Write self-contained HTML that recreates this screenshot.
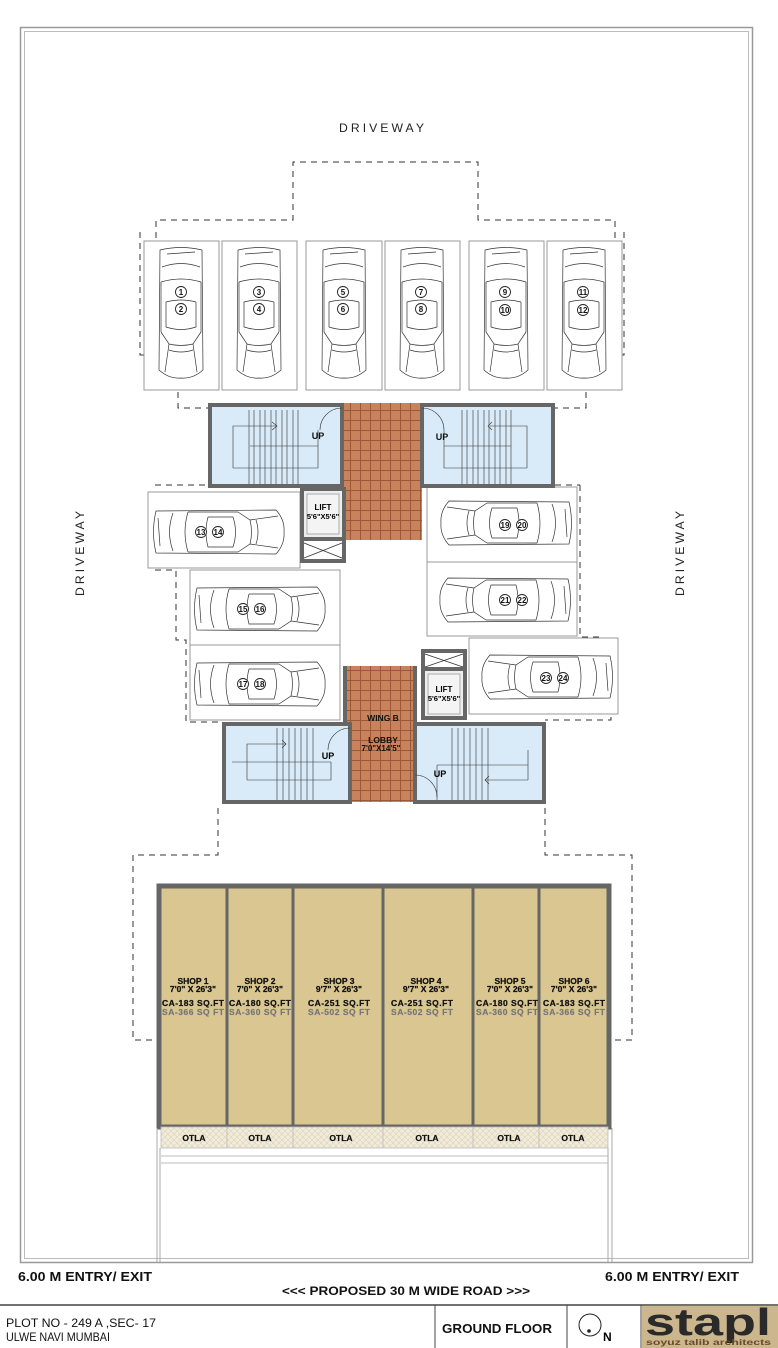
<!DOCTYPE html>
<html><head><meta charset="utf-8"><style>
html,body{margin:0;padding:0;background:#fff}
svg{display:block}
text{font-family:"Liberation Sans",Arial,sans-serif}
.b{font-weight:bold}
</style></head><body>
<svg width="778" height="1348" viewBox="0 0 778 1348" xmlns="http://www.w3.org/2000/svg">
<defs>
<pattern id="brick" width="10" height="10" patternUnits="userSpaceOnUse">
<rect width="10" height="10" fill="#c9835c"/>
<path d="M0,0.5H10M0.5,0V10" stroke="#9a5838" stroke-width="1"/>
</pattern>
<pattern id="otla" width="6" height="6" patternUnits="userSpaceOnUse">
<rect width="6" height="6" fill="#f1ebdb"/>
<path d="M0,6L6,0M0,0L6,6" stroke="#ddd2b6" stroke-width="0.6"/>
</pattern>
<g id="car" fill="none" stroke="#333" stroke-width="0.7">
<path d="M-62,-21 Q-67,0 -62,21 L58,22 Q67,12 66,0 Q67,-12 58,-22 Z" fill="#fff"/>
<path d="M-60,-14 L-58,14 M-45,-19 Q-52,0 -45,19 M-30,-20 Q-36,0 -30,20 M-30,-20 L20,-20 M-30,20 L20,20 M-10,-15 L15,-15 Q20,0 15,15 L-10,15 Q-14,0 -10,-15 M20,-20 L32,-12 Q35,0 32,12 L20,20 M32,-12 L60,-16 M32,12 L60,16 M38,-12 Q42,0 38,12"/>
</g>
<g id="num" ><circle r="5.5" fill="#fff" stroke="#222" stroke-width="0.9"/></g>
</defs>

<rect x="20.5" y="27.5" width="732" height="1235" fill="none" stroke="#999" stroke-width="1.5"/>
<rect x="24.5" y="31.5" width="724" height="1227" fill="none" stroke="#bbb" stroke-width="1"/>

<text x="383" y="132" text-anchor="middle" font-size="12" letter-spacing="3" fill="#222" textLength="88" lengthAdjust="spacingAndGlyphs">DRIVEWAY</text>
<text transform="translate(84,552) rotate(-90)" text-anchor="middle" font-size="12" letter-spacing="3" fill="#222" textLength="88" lengthAdjust="spacingAndGlyphs">DRIVEWAY</text>
<text transform="translate(684,552) rotate(-90)" text-anchor="middle" font-size="12" letter-spacing="3" fill="#222" textLength="88" lengthAdjust="spacingAndGlyphs">DRIVEWAY</text>

<g fill="none" stroke="#333" stroke-width="1" stroke-dasharray="6,5">
<path d="M156,238 V220 H293 V162 H478 V220 H615 V238"/>
<path d="M140,232 V355 H178 V408 H208"/>
<path d="M624,232 V355 H586 V408 H555"/>
<path d="M155,485 H208 M555,485 H580"/>
<path d="M580,485 V637 H600 M155,570 H176 V640 H186 V722 H222"/>
<path d="M611,640 V720 H545"/>
<path d="M218,808 V855 H133 V1040 H157 M545,808 V855 H632 V1040 H612"/>
</g>

<g fill="#fff" stroke="#999" stroke-width="1">
<rect x="144" y="241" width="75" height="149"/>
<rect x="222" y="241" width="75" height="149"/>
<rect x="306" y="241" width="76" height="149"/>
<rect x="385" y="241" width="75" height="149"/>
<rect x="469" y="241" width="75" height="149"/>
<rect x="547" y="241" width="75" height="149"/>
<rect x="148" y="492" width="152" height="76"/>
<rect x="427" y="487" width="150" height="75"/>
<rect x="427" y="562" width="150" height="74"/>
<rect x="190" y="570" width="150" height="75"/>
<rect x="190" y="645" width="150" height="75"/>
<rect x="469" y="638" width="149" height="76"/>
</g>
<use href="#car" transform="translate(181,312) rotate(90)"/>
<use href="#car" transform="translate(259,312) rotate(90)"/>
<use href="#car" transform="translate(344,312) rotate(90)"/>
<use href="#car" transform="translate(422,312) rotate(90)"/>
<use href="#car" transform="translate(506,312) rotate(90)"/>
<use href="#car" transform="translate(584,312) rotate(90)"/>
<use href="#car" transform="translate(218,532)"/>
<use href="#car" transform="translate(507,523) rotate(180)"/>
<use href="#car" transform="translate(506,600) rotate(180)"/>
<use href="#car" transform="translate(259,609)"/>
<use href="#car" transform="translate(259,684)"/>
<use href="#car" transform="translate(548,677) rotate(180)"/>

<g font-size="8" font-weight="bold" text-anchor="middle" fill="#111">
<g transform="translate(181,292)"><use href="#num"/><text y="3">1</text></g>
<g transform="translate(181,309)"><use href="#num"/><text y="3">2</text></g>
<g transform="translate(259,292)"><use href="#num"/><text y="3">3</text></g>
<g transform="translate(259,309)"><use href="#num"/><text y="3">4</text></g>
<g transform="translate(343,292)"><use href="#num"/><text y="3">5</text></g>
<g transform="translate(343,309)"><use href="#num"/><text y="3">6</text></g>
<g transform="translate(421,292)"><use href="#num"/><text y="3">7</text></g>
<g transform="translate(421,309)"><use href="#num"/><text y="3">8</text></g>
<g transform="translate(505,292)"><use href="#num"/><text y="3">9</text></g>
<g transform="translate(505,310)"><use href="#num"/><text y="3">10</text></g>
<g transform="translate(583,292)"><use href="#num"/><text y="3">11</text></g>
<g transform="translate(583,310)"><use href="#num"/><text y="3">12</text></g>
<g transform="translate(201,532)"><use href="#num"/><text y="3">13</text></g>
<g transform="translate(218,532)"><use href="#num"/><text y="3">14</text></g>
<g transform="translate(505,525)"><use href="#num"/><text y="3">19</text></g>
<g transform="translate(522,525)"><use href="#num"/><text y="3">20</text></g>
<g transform="translate(505,600)"><use href="#num"/><text y="3">21</text></g>
<g transform="translate(522,600)"><use href="#num"/><text y="3">22</text></g>
<g transform="translate(243,609)"><use href="#num"/><text y="3">15</text></g>
<g transform="translate(260,609)"><use href="#num"/><text y="3">16</text></g>
<g transform="translate(243,684)"><use href="#num"/><text y="3">17</text></g>
<g transform="translate(260,684)"><use href="#num"/><text y="3">18</text></g>
<g transform="translate(546,678)"><use href="#num"/><text y="3">23</text></g>
<g transform="translate(563,678)"><use href="#num"/><text y="3">24</text></g>
</g>

<rect x="342" y="403" width="80" height="137" fill="url(#brick)"/>
<g stroke="#666" stroke-width="4" fill="#d9eaf8">
<rect x="210" y="405" width="132" height="81"/>
<rect x="422" y="405" width="131" height="81"/>
</g>
<g stroke="#666" stroke-width="4" fill="#fff">
<rect x="302" y="489" width="42" height="50" fill="#eee"/>
<rect x="302" y="539" width="42" height="22"/>
<rect x="423" y="651" width="42" height="18"/>
<rect x="423" y="669" width="42" height="49" fill="#eee"/>
</g>
<rect x="307" y="494" width="32" height="40" fill="#f4f4f4" stroke="#999" stroke-width="0.8"/>
<rect x="428" y="674" width="32" height="40" fill="#f4f4f4" stroke="#999" stroke-width="0.8"/>
<path d="M304,543 L342,558 M342,543 L304,558 M425,654 L463,667 M463,654 L425,667" stroke="#333" stroke-width="0.8"/>
<g stroke="#333" stroke-width="0.6" fill="none">
<path d="M249,410 V484 M254,410 V484 M260,410 V484 M265,410 V484 M271,410 V484 M276,410 V484 M282,410 V484 M287,410 V484 M293,410 V484 M298,410 V484"/>
<path d="M233,468 V426 H277 M233,468 H318 V430 M250,446 H318 M272,422 L277,426 L272,430"/>
<path d="M342,408 A22,22 0 0 0 320,430"/>
<path d="M462,410 V484 M467,410 V484 M473,410 V484 M478,410 V484 M484,410 V484 M489,410 V484 M495,410 V484 M500,410 V484 M506,410 V484 M511,410 V484"/>
<path d="M527,468 V426 H490 M527,468 H444 V430 M444,446 H511 M492,422 L488,426 L492,430"/>
<path d="M422,408 A22,22 0 0 1 444,430"/>
</g>
<text x="318" y="439" font-size="9" class="b" fill="#111" text-anchor="middle">UP</text>
<text x="442" y="440" font-size="9" class="b" fill="#111" text-anchor="middle">UP</text>
<text x="323" y="510" font-size="8" class="b" text-anchor="middle">LIFT</text>
<text x="323" y="519" font-size="7.5" class="b" text-anchor="middle">5'6"X5'6"</text>

<rect x="345" y="666" width="70" height="136" fill="url(#brick)"/>
<g stroke="#666" stroke-width="4" fill="#d9eaf8">
<rect x="224" y="724" width="126" height="78"/>
<rect x="415" y="724" width="129" height="78"/>
</g>
<path d="M345,666 V724 M415,666 V724" stroke="#666" stroke-width="4"/>
<g stroke="#333" stroke-width="0.6" fill="none">
<path d="M277,728 V800 M283,728 V800 M289,728 V800 M295,728 V800 M301,728 V800 M307,728 V800 M313,728 V800"/>
<path d="M247,780 V744 H286 M247,780 H331 V762 M232,762 H331 M282,740 L286,744 L282,748"/>
<path d="M350,728 A22,22 0 0 0 328,750"/>
<path d="M452,728 V800 M458,728 V800 M464,728 V800 M470,728 V800 M476,728 V800 M482,728 V800 M488,728 V800"/>
<path d="M528,780 V750 M528,780 H485 M437,765 H528 M437,765 V800 M489,776 L485,780 L489,784"/>
<path d="M415,775 A22,22 0 0 1 437,797"/>
</g>
<text x="328" y="759" font-size="9" class="b" text-anchor="middle">UP</text>
<text x="440" y="777" font-size="9" class="b" text-anchor="middle">UP</text>
<text x="383" y="721" font-size="8.5" class="b" text-anchor="middle" fill="#111">WING B</text>
<text x="383" y="743" font-size="8.5" class="b" text-anchor="middle" fill="#111">LOBBY</text>
<text x="381" y="751" font-size="8" class="b" text-anchor="middle" fill="#111">7'0"X14'5"</text>
<text x="444" y="692" font-size="8" class="b" text-anchor="middle">LIFT</text>
<text x="444" y="701" font-size="7.5" class="b" text-anchor="middle">5'6"X5'6"</text>

<rect x="159" y="886" width="450" height="241" fill="#d9c691" stroke="#666" stroke-width="5"/>
<path d="M227,886 V1127 M293,886 V1127 M383,886 V1127 M473,886 V1127 M539,886 V1127" stroke="#666" stroke-width="3"/>
<rect x="161" y="1127" width="447" height="21" fill="url(#otla)" stroke="#bbb" stroke-width="0.8"/>
<path d="M227,1127 V1148 M293,1127 V1148 M383,1127 V1148 M473,1127 V1148 M539,1127 V1148" stroke="#bbb" stroke-width="0.8"/>
<path d="M161,1156 H608 M161,1163 H608" stroke="#bbb" stroke-width="1"/>
<path d="M160,1148 V1262 M612,1128 V1262 M157,1128 V1262 M608,1148 V1262" stroke="#aaa" stroke-width="1"/>
<g font-size="8.5" class="b" text-anchor="middle" fill="#111" stroke="#111" stroke-width="0.25">
<text x="193" y="984">SHOP 1</text><text x="193" y="992">7'0" X 26'3"</text><text x="193" y="1006" textLength="62">CA-183 SQ.FT</text>
<text x="260" y="984">SHOP 2</text><text x="260" y="992">7'0" X 26'3"</text><text x="260" y="1006" textLength="62">CA-180 SQ.FT</text>
<text x="339" y="984">SHOP 3</text><text x="339" y="992">9'7" X 26'3"</text><text x="339" y="1006" textLength="62">CA-251 SQ.FT</text>
<text x="426" y="984">SHOP 4</text><text x="426" y="992">9'7" X 26'3"</text><text x="422" y="1006" textLength="62">CA-251 SQ.FT</text>
<text x="510" y="984">SHOP 5</text><text x="510" y="992">7'0" X 26'3"</text><text x="507" y="1006" textLength="62">CA-180 SQ.FT</text>
<text x="574" y="984">SHOP 6</text><text x="574" y="992">7'0" X 26'3"</text><text x="574" y="1006" textLength="62">CA-183 SQ.FT</text>
</g>
<g font-size="8.5" class="b" text-anchor="middle" fill="#777" stroke="#777" stroke-width="0.2">
<text x="193" y="1015" textLength="62">SA-366 SQ FT</text><text x="260" y="1015" textLength="62">SA-360 SQ FT</text><text x="339" y="1015" textLength="62">SA-502 SQ FT</text>
<text x="422" y="1015" textLength="62">SA-502 SQ FT</text><text x="507" y="1015" textLength="62">SA-360 SQ FT</text><text x="574" y="1015" textLength="62">SA-366 SQ FT</text>
</g>
<g font-size="8.5" class="b" text-anchor="middle" fill="#111" stroke="#111" stroke-width="0.2">
<text x="194" y="1141">OTLA</text><text x="260" y="1141">OTLA</text><text x="341" y="1141">OTLA</text>
<text x="427" y="1141">OTLA</text><text x="509" y="1141">OTLA</text><text x="573" y="1141">OTLA</text>
</g>

<text x="18" y="1281" font-size="12.5" class="b" fill="#111" textLength="134" lengthAdjust="spacingAndGlyphs">6.00 M ENTRY/ EXIT</text>
<text x="605" y="1281" font-size="12.5" class="b" fill="#111" textLength="134" lengthAdjust="spacingAndGlyphs">6.00 M ENTRY/ EXIT</text>
<text x="282" y="1295" font-size="12" class="b" fill="#111" textLength="248" lengthAdjust="spacingAndGlyphs">&lt;&lt;&lt; PROPOSED 30 M WIDE ROAD &gt;&gt;&gt;</text>
<path d="M0,1305 H778" stroke="#444" stroke-width="1.5"/>
<path d="M435,1305 V1348 M567,1305 V1348 M641,1305 V1348" stroke="#444" stroke-width="1"/>
<text x="6" y="1327" font-size="11.5" fill="#111" textLength="150" lengthAdjust="spacingAndGlyphs">PLOT NO - 249 A ,SEC- 17</text>
<text x="6" y="1341" font-size="11.5" fill="#111" textLength="104" lengthAdjust="spacingAndGlyphs">ULWE NAVI MUMBAI</text>
<text x="442" y="1333" font-size="12.5" class="b" fill="#111" textLength="110" lengthAdjust="spacingAndGlyphs">GROUND FLOOR</text>
<circle cx="590" cy="1325" r="11" fill="none" stroke="#222" stroke-width="1"/>
<circle cx="589" cy="1331" r="1.8" fill="#222"/>
<text x="603" y="1341" font-size="12" class="b">N</text>
<rect x="642" y="1306" width="136" height="42" fill="#cbb68d"/>
<text x="645" y="1335" font-size="38" class="b" fill="#2a2a2a" textLength="126" lengthAdjust="spacingAndGlyphs">stapl</text>
<text x="646" y="1345" font-size="8" class="b" fill="#6a4a2a" textLength="125" lengthAdjust="spacingAndGlyphs">soyuz talib architects</text>
</svg>
</body></html>
